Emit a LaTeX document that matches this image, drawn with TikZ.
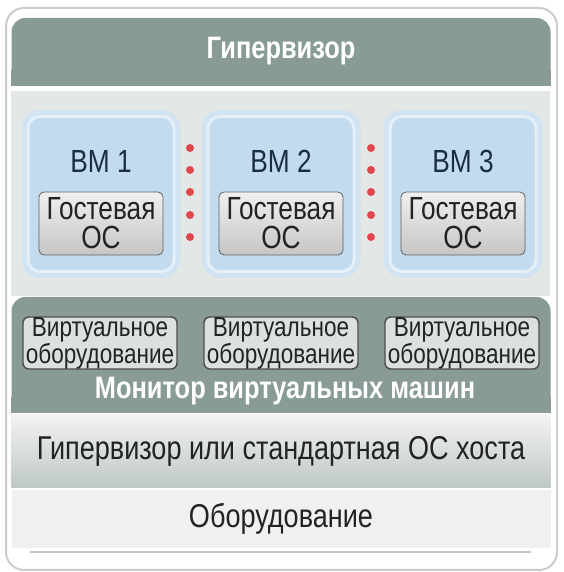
\documentclass[tikz,border=0pt]{standalone}
\usepackage{fontspec}
\setmainfont{Liberation Sans}[FakeStretch=0.82]
\usetikzlibrary{positioning}

\definecolor{bandgray}{HTML}{889B95}
\definecolor{lightarea}{HTML}{E3E7E5}
\definecolor{vmblue}{HTML}{C3DBEF}
\definecolor{vmrim}{HTML}{E4EFF8}
\definecolor{vmglow}{HTML}{D2E3F1}
\definecolor{navytext}{HTML}{1B2D45}
\definecolor{darktext}{HTML}{232323}
\definecolor{dotred}{HTML}{E0474C}

\begin{document}
\begin{tikzpicture}[
    x=1pt, y=1pt,
    band/.style={fill=bandgray, rounded corners=14pt,
      minimum width=539pt, inner sep=0pt},
    bandtext/.style={text=white, font=\bfseries\fontsize{31}{33}\selectfont},
    vm/.style={draw=vmrim, line width=3pt, fill=vmblue,
      rounded corners=12pt, minimum width=146pt, minimum height=155pt,
      preaction={draw=vmglow, line width=13pt}},
    vmtitle/.style={text=navytext, font=\fontsize{32}{34}\selectfont},
    guest/.style={draw=gray!75!black, line width=0.8pt, rounded corners=5pt,
      top color=gray!12, bottom color=gray!45,
      minimum width=124pt, minimum height=63pt, inner sep=0pt,
      align=center, text=darktext, font=\fontsize{32}{29}\selectfont},
    vhw/.style={draw=black!70, line width=1.4pt, fill=bandgray!30!white,
      rounded corners=6pt, minimum width=154pt, minimum height=52pt,
      inner sep=0pt, align=center, text=darktext,
      font=\fontsize{27.5}{22}\selectfont},
    layer/.style={minimum width=539pt, inner sep=0pt, text=darktext,
      font=\fontsize{33}{35}\selectfont}
  ]
    \useasboundingbox (0,0) rectangle (563,572);
    % outer frame
    \draw[gray!40, line width=2pt, fill=white, rounded corners=18pt]
      (6,2) rectangle (557,564);
    % top band
    \node[band, minimum height=68pt] (hyper) at (281,520) {};
    \fill[bandgray] (hyper.south west) rectangle ([yshift=16pt]hyper.south east);
    \node[bandtext] (hypertext) at (281,521) {Гипервизор};
    \fill[lightarea] (11,276) rectangle (550,481);
    % virtual machines
    \node[vm] (vm1) at (101,378) {};
    \node[vm] (vm2) at (281,378) {};
    \node[vm] (vm3) at (463,378) {};
    \node[vmtitle] (title1) at (101,411) {ВМ 1};
    \node[vmtitle] (title2) at (281,411) {ВМ 2};
    \node[vmtitle] (title3) at (463,411) {ВМ 3};
    \node[guest] (guest1) at (101,348.5) {Гостевая\\ОС};
    \node[guest] (guest2) at (281,348.5) {Гостевая\\ОС};
    \node[guest] (guest3) at (463,348.5) {Гостевая\\ОС};
    % dots between the machines
    \fill[dotred] (190,424) circle (4) (190,402) circle (4)
      (190,380) circle (4) (190,357) circle (4) (190,335) circle (4);
    \fill[dotred] (371,424) circle (4) (371,402) circle (4)
      (371,380) circle (4) (371,357) circle (4) (371,335) circle (4);
    % monitor band
    \node[band, minimum height=116pt] (vmm) at (281,217) {};
    \fill[bandgray] (vmm.south west) rectangle ([yshift=16pt]vmm.south east);
    \node[vhw] (vhw1) at (100,229) {Виртуальное\\оборудование};
    \node[vhw] (vhw2) at (281,229) {Виртуальное\\оборудование};
    \node[vhw] (vhw3) at (462,229) {Виртуальное\\оборудование};
    \node[bandtext] (vmmtext) at (285,181) {Монитор виртуальных машин};
    % host and hardware
    \node[layer, minimum height=73pt, top color=gray!10, bottom color=bandgray!55]
      (host) at (281,120.5) {Гипервизор или стандартная ОС хоста};
    \node[layer, minimum height=58pt, fill=gray!12] (hw) at (281,53) {Оборудование};
    \draw[gray!45, line width=1.5pt]
      ([xshift=19pt,yshift=-4pt]hw.south west) -- ([xshift=-20pt,yshift=-4pt]hw.south east);
  \end{tikzpicture}
\end{document}
